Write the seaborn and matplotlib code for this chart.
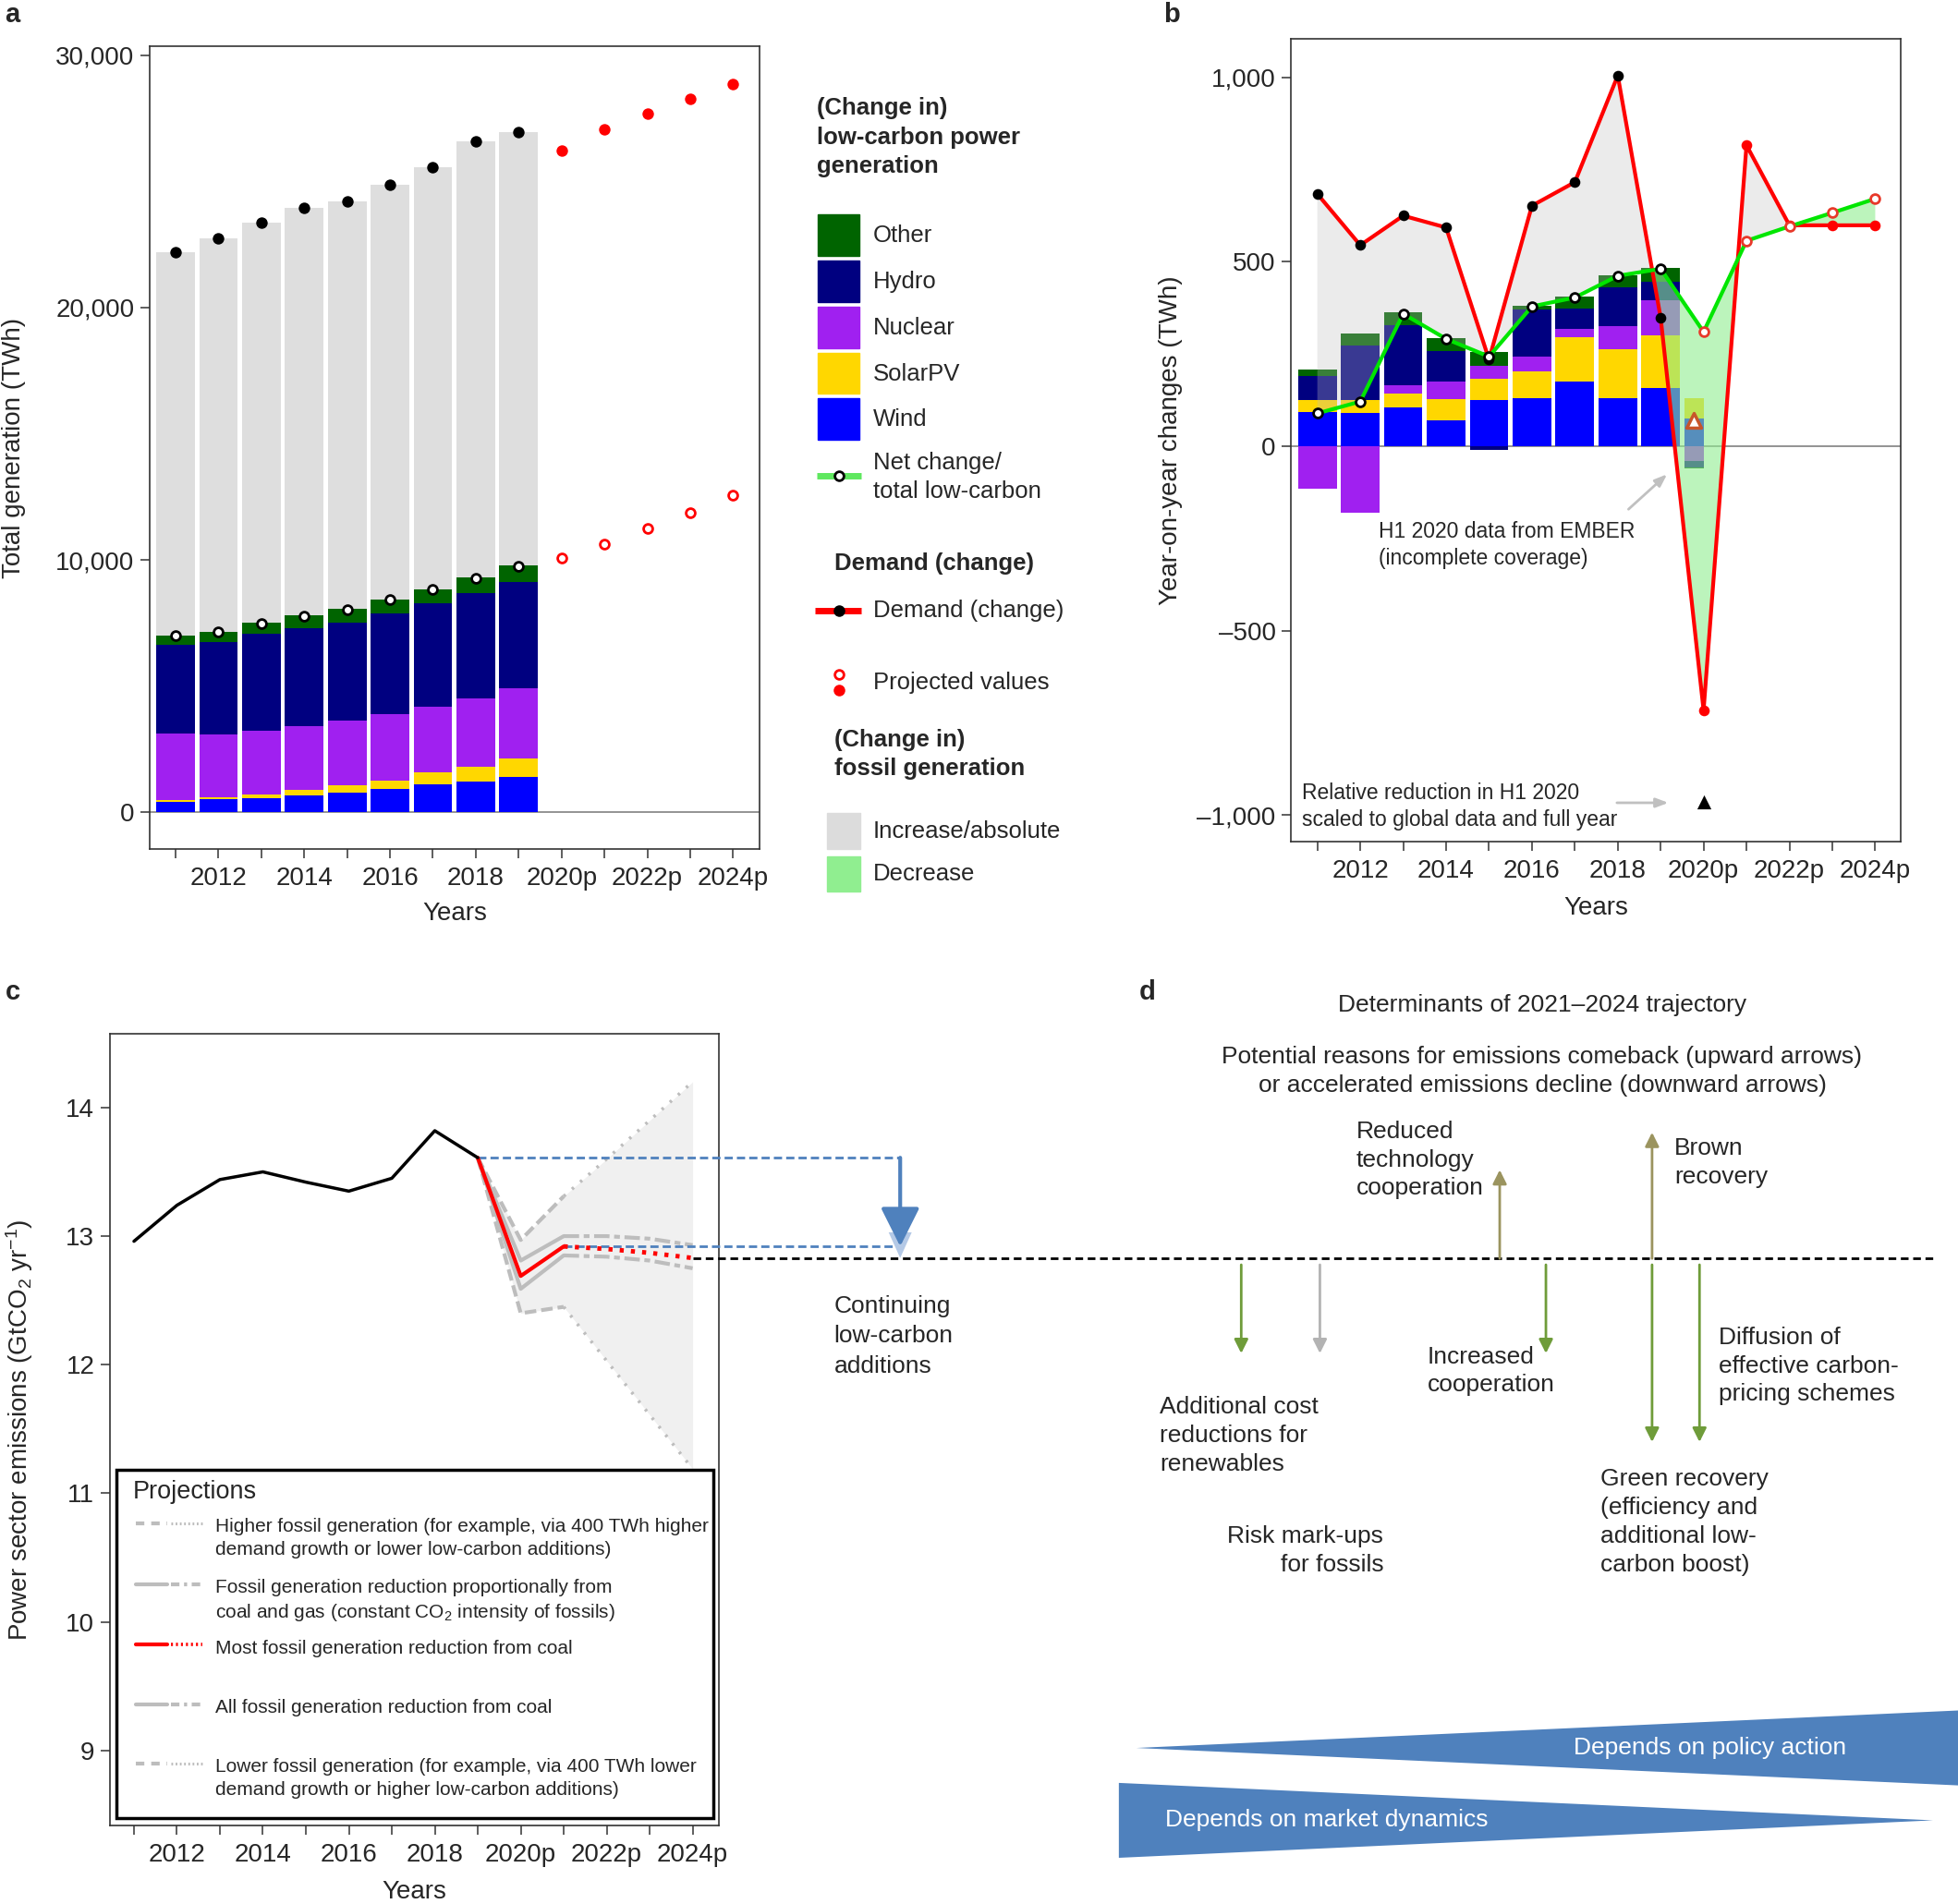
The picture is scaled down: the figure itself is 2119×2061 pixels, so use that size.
import numpy as np
import pandas as pd
import matplotlib.pyplot as plt
import matplotlib.patches as mpatches
import seaborn as sns

sns.set_style("ticks")
plt.rcParams['font.family'] = ['Liberation Sans', 'DejaVu Sans']
plt.rcParams['mathtext.default'] = 'regular'

# --- data ---
years = [2011, 2012, 2013, 2014, 2015, 2016, 2017, 2018, 2019]
proj_years = [2020, 2021, 2022, 2023, 2024]
year_labels = ['', '2012', '', '2014', '', '2016', '', '2018', '',
               '2020p', '', '2022p', '', '2024p']

sources = ['Wind', 'SolarPV', 'Nuclear', 'Hydro', 'Other']
source_colors = ['#0000ff', '#ffd700', '#a020f0', '#000080', '#006400']

# a: generation (TWh)
wind_gen = [420, 513, 583, 676, 793, 933, 1120, 1236, 1400]
solar_gen = [70, 93, 140, 210, 280, 327, 466, 583, 723]
nuclear_gen = [2636, 2473, 2519, 2543, 2566, 2635, 2613, 2706, 2799]
hydro_gen = [3522, 3662, 3826, 3872, 3872, 3989, 4082, 4152, 4222]
other_gen = [373, 397, 443, 513, 560, 537, 560, 630, 630]
total_gen = [22183, 22743, 23373, 23956, 24190, 24866, 25566, 26592, 26942]
lowcarbon_gen = [6998, 7138, 7488, 7791, 8024, 8421, 8817, 9284, 9750]
total_gen_proj = [26219, 27059, 27666, 28249, 28856]
lowcarbon_gen_proj = [10077, 10637, 11243, 11873, 12550]

# b: year-on-year changes (TWh)
wind_chg = [93, 89, 104, 69, 125, 131, 176, 129, 158]
solar_chg = [32, 37, 38, 59, 57, 72, 119, 135, 142]
nuclear_chg = [-116, -181, 23, 48, 36, 39, 24, 61, 95]
hydro_chg = [65, 148, 164, 81, -10, 128, 53, 106, 51]
other_chg = [19, 32, 33, 36, 37, 10, 35, 33, 37]
h1_2020_chg = [76, 55, -39, -19, -3]   # wind, solar, nuclear, hydro, other (EMBER, H1 2020)
demand_chg = [684, 545, 625, 593, 235, 652, 716, 1005, 348]
demand_chg_proj = [-716, 816, 599, 599, 599]
lowcarbon_chg = [89, 121, 359, 291, 243, 379, 403, 462, 481]
lowcarbon_chg_proj = [310, 557, 596, 633, 671]
h1_scaled_chg = -965

# c: power sector emissions (GtCO2/yr)
emissions = [12.96, 13.24, 13.44, 13.50, 13.42, 13.35, 13.45, 13.82, 13.61]
scen_years = [2019, 2020, 2021, 2022, 2023, 2024]
higher_fossil = [13.61, 12.97, 13.31, 13.60, 13.90, 14.20]
proportional = [13.61, 12.81, 13.00, 13.00, 12.98, 12.93]
most_coal = [13.61, 12.69, 12.92, 12.90, 12.87, 12.83]
all_coal = [13.61, 12.59, 12.85, 12.84, 12.81, 12.75]
lower_fossil = [13.61, 12.40, 12.45, 12.03, 11.61, 11.19]

# --- figure ---
fig = plt.figure(figsize=(21.19, 20.61), dpi=100)
RW, RH = 1568, 1525   # layout grid (reference pixels)


def frame(l, t, r, b):
    return [l / RW, 1 - b / RH, (r - l) / RW, (b - t) / RH]


def stack(ax, x, table, width, **kw):
    pos = np.zeros(len(x))
    neg = np.zeros(len(x))
    for src, col in zip(sources, source_colors):
        v = np.asarray(table[src], float)
        base = np.where(v >= 0, pos, neg)
        ax.bar(x, v, width=width, bottom=base, color=col, linewidth=0, zorder=2, **kw)
        pos += np.clip(v, 0, None)
        neg += np.clip(v, None, 0)


def style_axis(ax, xlim, ylim, yticks, yticklabels, ylabel, ylab_x, xlab_y):
    ax.set_xlim(*xlim)
    ax.set_ylim(*ylim)
    ax.set_xticks(years + proj_years)
    ax.set_xticklabels(year_labels)
    ax.set_yticks(yticks)
    ax.set_yticklabels(yticklabels)
    ax.tick_params(length=7, width=1.1, labelsize=20, color='#333333')
    ax.tick_params(axis='x', pad=7)
    ax.tick_params(axis='y', pad=5)
    for s in ax.spines.values():
        s.set_visible(True)
        s.set_color('#333333')
        s.set_linewidth(1.2)
    ax.set_xlabel('Years', fontsize=20)
    ax.xaxis.set_label_coords(0.5, xlab_y)
    ax.set_ylabel(ylabel, fontsize=20)
    ax.yaxis.set_label_coords(ylab_x, 0.5)


# ---------- a ----------
ax_a = fig.add_axes(frame(120, 37, 608, 680))
gen = pd.DataFrame(dict(zip(sources, [wind_gen, solar_gen, nuclear_gen, hydro_gen, other_gen])), index=years)
ax_a.bar(years, total_gen, width=0.9, color='#dedede', linewidth=0, zorder=1)
stack(ax_a, years, gen, 0.9)
ax_a.axhline(0, color='#808080', lw=1.2, zorder=1.5)
sns.scatterplot(x=years, y=total_gen, color='black', s=80, linewidth=0, ax=ax_a, zorder=4, legend=False)
sns.scatterplot(x=years, y=lowcarbon_gen, color='white', edgecolor='black', linewidth=2, s=50,
                ax=ax_a, zorder=4, legend=False)
sns.scatterplot(x=proj_years, y=total_gen_proj, color='red', s=80, linewidth=0, ax=ax_a, zorder=4, legend=False)
sns.scatterplot(x=proj_years, y=lowcarbon_gen_proj, color='white', edgecolor='red', linewidth=2, s=50,
                ax=ax_a, zorder=4, legend=False)
style_axis(ax_a, (2010.4, 2024.61), (-1446, 30348), [0, 10000, 20000, 30000],
           ['0', '10,000', '20,000', '30,000'], 'Total generation (TWh)', -0.203, -0.066)

# ---------- b ----------
ax_b = fig.add_axes(frame(1034, 31, 1522, 674))
chg = pd.DataFrame(dict(zip(sources, [wind_chg, solar_chg, nuclear_chg, hydro_chg, other_chg])), index=years)
stack(ax_b, years, chg, 0.9)
h1 = pd.DataFrame([h1_2020_chg], columns=sources, index=[proj_years[0]])
stack(ax_b, [proj_years[0]], h1, -0.45, align='edge')
ax_b.axhline(0, color='#808080', lw=1.2, zorder=1.5)

x_all = np.array(years + proj_years, float)
dem_all = np.array(demand_chg + demand_chg_proj, float)
low_all = np.array(lowcarbon_chg + lowcarbon_chg_proj, float)
ax_b.fill_between(x_all, dem_all, low_all, where=dem_all >= low_all, interpolate=True,
                  color='#bebebe', alpha=0.3, lw=0, zorder=3)
ax_b.fill_between(x_all, dem_all, low_all, where=dem_all < low_all, interpolate=True,
                  color='#90ee90', alpha=0.6, lw=0, zorder=3)
sns.lineplot(x=x_all, y=dem_all, color='red', lw=3, ax=ax_b, zorder=5)
sns.scatterplot(x=years, y=demand_chg, color='black', s=70, linewidth=0, ax=ax_b, zorder=6, legend=False)
sns.scatterplot(x=proj_years, y=demand_chg_proj, color='red', s=70, linewidth=0, ax=ax_b, zorder=6, legend=False)
sns.lineplot(x=x_all, y=low_all, color='#00e600', lw=3, ax=ax_b, zorder=7)
sns.scatterplot(x=years, y=lowcarbon_chg, color='white', edgecolor='black', linewidth=2, s=50,
                ax=ax_b, zorder=8, legend=False)
sns.scatterplot(x=proj_years, y=lowcarbon_chg_proj, color='white', edgecolor='#e8392a', linewidth=2, s=50,
                ax=ax_b, zorder=8, legend=False)
sns.scatterplot(x=[proj_years[0] - 0.225], y=[sum(h1_2020_chg)], marker='^', color='white',
                edgecolor='#c8552a', linewidth=2.5, s=130, ax=ax_b, zorder=8, legend=False)
sns.scatterplot(x=[proj_years[0]], y=[h1_scaled_chg], marker='^', color='black', s=120,
                linewidth=0, ax=ax_b, zorder=8, legend=False)
ax_b.annotate('', xy=(2019.15, -76), xytext=(2018.25, -171),
              arrowprops=dict(arrowstyle='-|>,head_width=0.3,head_length=0.8', color='#c0c0c0', lw=2,
                              shrinkA=0, shrinkB=0))
ax_b.annotate('', xy=(2019.18, -967), xytext=(2017.98, -967),
              arrowprops=dict(arrowstyle='-|>,head_width=0.3,head_length=0.8', color='#c0c0c0', lw=2,
                              shrinkA=0, shrinkB=0))
ax_b.text(2012.43, -268, 'H1 2020 data from EMBER\n(incomplete coverage)', fontsize=16.5,
          va='center', ha='left', linespacing=1.3)
ax_b.text(2010.65, -977, 'Relative reduction in H1 2020\nscaled to global data and full year', fontsize=16.5,
          va='center', ha='left', linespacing=1.3)
style_axis(ax_b, (2010.39, 2024.59), (-1072, 1105), [-1000, -500, 0, 500, 1000],
           ['\u20131,000', '\u2013500', '0', '500', '1,000'], 'Year-on-year changes (TWh)', -0.178, -0.068)

# ---------- c ----------
ax_c = fig.add_axes(frame(88, 828, 576, 1462))
ax_c.fill_between(scen_years, higher_fossil, lower_fossil, color='#f0f0f0', lw=0, zorder=1)
gray = '#bdbdbd'
dashed = (0, (3, 1.3))
dotted = (0, (0.8, 2.6))
dashdot = (0, (4, 1.2, 1.5, 1.2))
red_dot = (0, (0.9, 1.6))
for series, s1, s2 in [(higher_fossil, dashed, dotted), (lower_fossil, dashed, dotted)]:
    sns.lineplot(x=scen_years[:3], y=series[:3], color=gray, lw=3, linestyle=s1, ax=ax_c, zorder=2)
    sns.lineplot(x=scen_years[2:], y=series[2:], color=gray, lw=2.5, linestyle=s2, ax=ax_c, zorder=2)
for series in [proportional, all_coal]:
    sns.lineplot(x=scen_years[:3], y=series[:3], color=gray, lw=3, ax=ax_c, zorder=2)
    sns.lineplot(x=scen_years[2:], y=series[2:], color=gray, lw=3, linestyle=dashdot, ax=ax_c, zorder=2)
sns.lineplot(x=scen_years[:3], y=most_coal[:3], color='red', lw=3, ax=ax_c, zorder=4)
sns.lineplot(x=scen_years[2:], y=most_coal[2:], color='red', lw=3.5, linestyle=red_dot, ax=ax_c, zorder=4)
sns.lineplot(x=years, y=emissions, color='black', lw=2.5, ax=ax_c, zorder=4)

x_arrow, x_end = 2028.83, 2052.86
blue = '#4f81bd'
ax_c.plot([scen_years[0], x_arrow], [most_coal[0]] * 2, color=blue, lw=2, ls=(0, (3.2, 1.6)),
          clip_on=False, zorder=3)
ax_c.plot([scen_years[2], x_arrow], [most_coal[2]] * 2, color=blue, lw=2, ls=(0, (3.2, 1.6)),
          clip_on=False, zorder=3)
ax_c.plot([scen_years[-1], x_end], [most_coal[-1]] * 2, color='black', lw=2, ls=(0, (3, 1.8)),
          clip_on=False, zorder=3)
ax_c.annotate('', xy=(x_arrow, most_coal[-1]), xytext=(x_arrow, 13.05),
              arrowprops=dict(arrowstyle='-|>,head_width=0.45,head_length=1.0', color='#b4c9e6',
                              lw=0, mutation_scale=20, shrinkA=0, shrinkB=0), annotation_clip=False)
ax_c.annotate('', xy=(x_arrow, most_coal[2]), xytext=(x_arrow, most_coal[0]),
              arrowprops=dict(arrowstyle='-|>,head_width=0.65,head_length=1.3', color=blue,
                              lw=3, mutation_scale=20, shrinkA=0, shrinkB=0), annotation_clip=False)
style_axis(ax_c, (2010.44, 2024.62), (8.417, 14.574), [9, 10, 11, 12, 13, 14],
           ['9', '10', '11', '12', '13', '14'], 'Power sector emissions (GtCO$_2$ yr$^{-1}$)', -0.122, -0.069)

# legend of c
ax_c.add_patch(mpatches.Rectangle((0.0107, 0.009), 0.98, 0.44, transform=ax_c.transAxes,
                                  facecolor='white', edgecolor='black', lw=2.5, zorder=10))
ax_c.text(0.037, 0.421, 'Projections', transform=ax_c.transAxes, fontsize=19.5, va='center', zorder=11)
leg_dash = (0, (2.2, 1.8))
leg_dot = (0, (0.6, 0.9))
leg_dashdot = (0, (2.2, 1.2, 0.8, 1.2))
leg_entries = [
    (0.382, (gray, leg_dash, 3), (gray, leg_dot, 2.2),
     'Higher fossil generation (for example, via 400 TWh higher\ndemand growth or lower low-carbon additions)'),
    (0.305, (gray, '-', 3), (gray, leg_dashdot, 3),
     'Fossil generation reduction proportionally from\ncoal and gas (constant CO$_2$ intensity of fossils)'),
    (0.228, ('red', '-', 3), ('red', leg_dot, 2.6), 'Most fossil generation reduction from coal'),
    (0.153, (gray, '-', 3), (gray, leg_dashdot, 3), 'All fossil generation reduction from coal'),
    (0.078, (gray, leg_dash, 3), (gray, leg_dot, 2.2),
     'Lower fossil generation (for example, via 400 TWh lower\ndemand growth or higher low-carbon additions)'),
]
for y, (c1, l1, w1), (c2, l2, w2), label in leg_entries:
    ax_c.plot([0.043, 0.094], [y, y], color=c1, ls=l1, lw=w1, transform=ax_c.transAxes, zorder=11, clip_on=False)
    ax_c.plot([0.100, 0.151], [y, y], color=c2, ls=l2, lw=w2, transform=ax_c.transAxes, zorder=11, clip_on=False)
    ax_c.text(0.173, y + 0.0065, label, transform=ax_c.transAxes, fontsize=15, va='top', ha='left',
              linespacing=1.38, zorder=11)

# ---------- overlay: legend of a, panel d, letters ----------
ov = fig.add_axes([0, 0, 1, 1], zorder=5)
ov.set_xlim(0, RW)
ov.set_ylim(RH, 0)
ov.axis('off')

for x, y, s in [(4, 12, 'a'), (932, 12, 'b'), (4, 795, 'c'), (912, 795, 'd')]:
    ov.text(x, y, s, fontsize=21, fontweight='bold', va='center', ha='left')

kw_t = dict(fontsize=18.5, va='center', ha='left', linespacing=1.38)
ov.text(654, 110, '(Change in)\nlow-carbon power\ngeneration', fontweight='bold', **kw_t)
for i, (name, col) in enumerate(zip(sources[::-1], source_colors[::-1])):
    y0 = 172 + i * 36.8
    ov.add_patch(mpatches.Rectangle((655, y0), 33, 33, color=col))
    ov.text(699, y0 + 17, name, **kw_t)
ov.plot([654, 690], [381, 381], color='#5fe85f', lw=5, solid_capstyle='butt')
ov.plot(672, 381, 'o', mfc='white', mec='black', ms=7, mew=2)
ov.text(699, 382, 'Net change/\ntotal low-carbon', **kw_t)
ov.text(668, 451, 'Demand (change)', fontweight='bold', **kw_t)
ov.plot([653, 690], [489, 489], color='red', lw=5, solid_capstyle='butt')
ov.plot(672, 489, 'o', color='black', ms=8)
ov.text(699, 489, 'Demand (change)', **kw_t)
ov.plot(672, 540, 'o', mfc='white', mec='red', ms=7, mew=2)
ov.plot(672, 553, 'o', color='red', ms=8)
ov.text(699, 547, 'Projected values', **kw_t)
ov.text(668, 604, '(Change in)\nfossil generation', fontweight='bold', **kw_t)
ov.add_patch(mpatches.Rectangle((662, 651), 27, 29, color='#dcdcdc'))
ov.text(699, 666, 'Increase/absolute', **kw_t)
ov.add_patch(mpatches.Rectangle((662, 686), 27, 28, color='#90ee90'))
ov.text(699, 700, 'Decrease', **kw_t)

# continuing low-carbon additions (c)
ov.text(668, 1070, 'Continuing\nlow-carbon\nadditions', fontsize=19, va='center', ha='left', linespacing=1.45)

# panel d
kw_d = dict(fontsize=19, va='center', linespacing=1.36)
ov.text(1235, 805, 'Determinants of 2021\u20132024 trajectory', ha='center', **kw_d)
ov.text(1235, 858, 'Potential reasons for emissions comeback (upward arrows)\n'
                   'or accelerated emissions decline (downward arrows)', ha='center', multialignment='center', **kw_d)
ov.text(1086, 929, 'Reduced\ntechnology\ncooperation', ha='left', **kw_d)
ov.text(1341, 931, 'Brown\nrecovery', ha='left', **kw_d)
ov.text(1143, 1098, 'Increased\ncooperation', ha='left', **kw_d)
ov.text(1376, 1094, 'Diffusion of\neffective carbon-\npricing schemes', ha='left', **kw_d)
ov.text(929, 1150, 'Additional cost\nreductions for\nrenewables', ha='left', **kw_d)
ov.text(1108, 1242, 'Risk mark-ups\nfor fossils', ha='right', multialignment='right', **kw_d)
ov.text(1282, 1219, 'Green recovery\n(efficiency and\nadditional low-\ncarbon boost)', ha='left', **kw_d)

olive, green_d, gray_d = '#9b945f', '#6f9c3a', '#b3b3b3'
arrows_d = [(1201, 1008, 937, olive), (1323, 1008, 907, olive),
            (994, 1013, 1084, green_d), (1057, 1013, 1084, gray_d), (1238, 1013, 1084, green_d),
            (1323, 1013, 1155, green_d), (1361, 1013, 1155, green_d)]
for x, y0, y1, col in arrows_d:
    ov.annotate('', xy=(x, y1), xytext=(x, y0),
                arrowprops=dict(arrowstyle='-|>,head_width=0.45,head_length=0.9', color=col, lw=2,
                                shrinkA=0, shrinkB=0))

ov.add_patch(mpatches.Polygon([(910, 1400), (1568, 1370), (1568, 1430)], closed=True, color=blue, lw=0))
ov.add_patch(mpatches.Polygon([(896, 1428), (896, 1488), (1548, 1458)], closed=True, color=blue, lw=0))
ov.text(1260, 1400, 'Depends on policy action', color='white', ha='left', **kw_d)
ov.text(933, 1458, 'Depends on market dynamics', color='white', ha='left', **kw_d)

fig.savefig('out.png', dpi=100)
